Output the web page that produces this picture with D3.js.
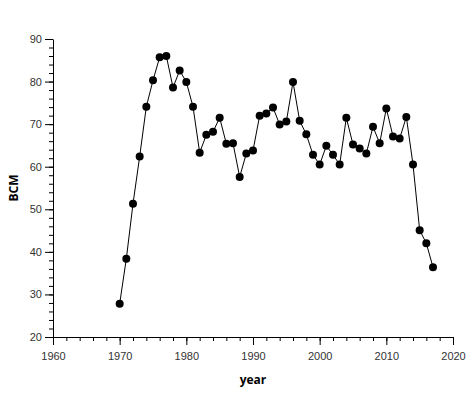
<!DOCTYPE html>
<html>
<head>
<meta charset="utf-8">
<script src="https://cdn.jsdelivr.net/npm/d3@7"></script>
<style>
  body { margin: 0; background: #fff; }
  svg { font-family: "Open Sans", sans-serif; }
  .tick text { fill: #333; font-size: 11px; }
  .axis-title { font-size: 12px; font-weight: bold; fill: #000; }
</style>
</head>
<body>
<script>
// yearly values
const years = [1970, 1971, 1972, 1973, 1974, 1975, 1976, 1977, 1978, 1979,
               1980, 1981, 1982, 1983, 1984, 1985, 1986, 1987, 1988, 1989,
               1990, 1991, 1992, 1993, 1994, 1995, 1996, 1997, 1998, 1999,
               2000, 2001, 2002, 2003, 2004, 2005, 2006, 2007, 2008, 2009,
               2010, 2011, 2012, 2013, 2014, 2015, 2016, 2017];
const bcm = [27.8, 38.4, 51.3, 62.4, 74.1, 80.3, 85.7, 86.0, 78.6, 82.6,
             79.9, 74.1, 63.3, 67.5, 68.2, 71.5, 65.4, 65.5, 57.6, 63.1,
             63.8, 72.0, 72.5, 73.9, 69.9, 70.6, 79.9, 70.8, 67.6, 62.8,
             60.5, 64.9, 62.8, 60.5, 71.5, 65.2, 64.3, 63.1, 69.4, 65.5,
             73.7, 67.1, 66.6, 71.7, 60.5, 45.1, 42.0, 36.4];
const xTicks = [1960, 1970, 1980, 1990, 2000, 2010, 2020];
const yTicks = [20, 30, 40, 50, 60, 70, 80, 90];

const width = 472, height = 398;
const margin = {top: 39, right: 19, bottom: 61, left: 53};

const svg = d3.select("body").append("svg")
    .attr("width", width)
    .attr("height", height);

const x = d3.scaleLinear().domain([1960, 2020]).range([margin.left, width - margin.right]);
const y = d3.scaleLinear().domain([20, 90]).range([height - margin.bottom, margin.top]);

// minor ticks every 2 units
svg.append("g")
    .attr("transform", "translate(0," + (height - margin.bottom) + ")")
    .call(d3.axisBottom(x).tickValues(d3.range(1960, 2021, 2)).tickSize(4).tickFormat(""))
    .call(g => g.select(".domain").remove());
svg.append("g")
    .attr("transform", "translate(" + margin.left + ",0)")
    .call(d3.axisLeft(y).tickValues(d3.range(20, 91, 2)).tickSize(4).tickFormat(""))
    .call(g => g.select(".domain").remove());

// major ticks
svg.append("g")
    .attr("transform", "translate(0," + (height - margin.bottom) + ")")
    .call(d3.axisBottom(x).tickValues(xTicks).tickSize(8).tickSizeOuter(0).tickFormat(d3.format("d")))
    .call(g => g.selectAll(".tick text").attr("dy", "1.1em"));
svg.append("g")
    .attr("transform", "translate(" + margin.left + ",0)")
    .call(d3.axisLeft(y).tickValues(yTicks).tickSize(8).tickSizeOuter(0))
    .call(g => g.selectAll(".tick text").attr("x", -11));

svg.append("text")
    .attr("class", "axis-title")
    .attr("x", (margin.left + width - margin.right) / 2)
    .attr("y", 384)
    .attr("text-anchor", "middle")
    .text("year");

svg.append("text")
    .attr("class", "axis-title")
    .attr("transform", "translate(18," + ((margin.top + height - margin.bottom) / 2) + ") rotate(-90)")
    .attr("text-anchor", "middle")
    .text("BCM");

const pts = years.map((yr, i) => [yr, bcm[i]]);

svg.append("path")
    .datum(pts)
    .attr("fill", "none")
    .attr("stroke", "#000")
    .attr("stroke-width", 1)
    .attr("d", d3.line().x(d => x(d[0])).y(d => y(d[1])));

svg.selectAll("circle")
    .data(pts)
    .enter()
    .append("circle")
    .attr("cx", d => x(d[0]))
    .attr("cy", d => y(d[1]))
    .attr("r", 4)
    .attr("fill", "#000");
</script>
</body>
</html>
